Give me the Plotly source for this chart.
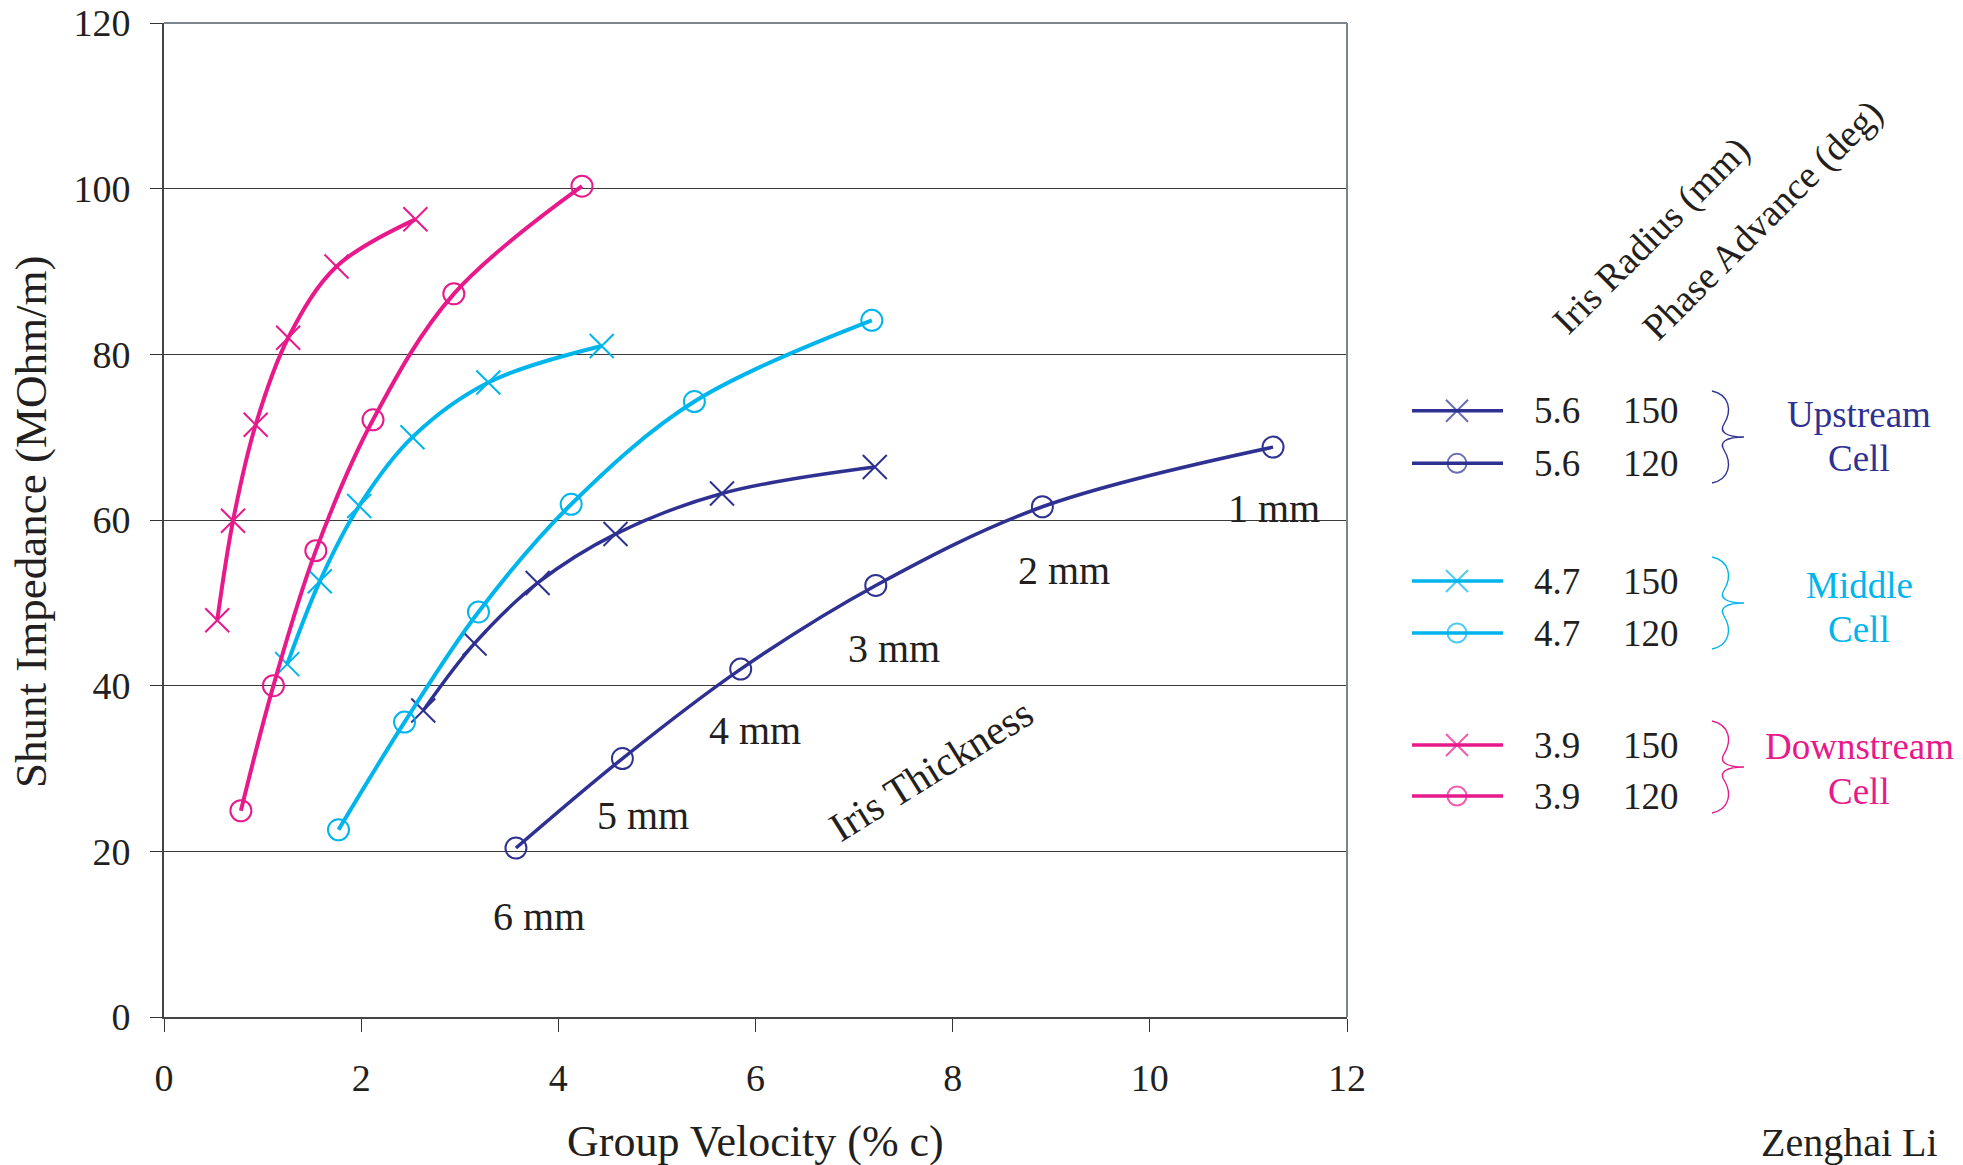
import plotly.graph_objects as go

# ---- data: group velocity (% c) vs shunt impedance (MOhm/m) ----
up150_vg = [2.63, 3.15, 3.79, 4.58, 5.66, 7.21]
up150_rs = [37.0, 45.1, 52.4, 58.3, 63.2, 66.4]
up120_vg = [3.57, 4.65, 5.85, 7.22, 8.91, 11.25]
up120_rs = [20.4, 31.2, 42.0, 52.1, 61.6, 68.8]

mid150_vg = [1.25, 1.58, 1.98, 2.52, 3.29, 4.44]
mid150_rs = [42.6, 52.6, 61.7, 70.0, 76.6, 81.0]
mid120_vg = [1.77, 2.44, 3.19, 4.13, 5.38, 7.18]
mid120_rs = [22.6, 35.6, 48.9, 61.9, 74.3, 84.1]

down150_vg = [0.54, 0.70, 0.93, 1.26, 1.75, 2.55]
down150_rs = [47.9, 59.9, 71.5, 82.0, 90.6, 96.3]
down120_vg = [0.78, 1.11, 1.54, 2.12, 2.94, 4.24]
down120_rs = [24.9, 40.0, 56.3, 72.1, 87.3, 100.3]

thickness_text = ["1 mm", "2 mm", "3 mm", "4 mm", "5 mm", "6 mm"]
thickness_x = [11.26, 9.13, 7.40, 5.99, 4.86, 3.80]
thickness_y = [61.4, 53.9, 44.5, 34.6, 24.3, 12.1]

legend_radius = ["5.6", "5.6", "4.7", "4.7", "3.9", "3.9"]
legend_phase = ["150", "120", "150", "120", "150", "120"]
cell_names = ["Upstream", "Middle", "Downstream"]

x_ticks = [0, 2, 4, 6, 8, 10, 12]
y_ticks = [0, 20, 40, 60, 80, 100, 120]

# ---- styling ----
NAVY = "#2E3192"
CYAN = "#00B5EC"
MAGENTA = "#E8198B"
TEXT = "#231F20"
FONT = "Liberation Serif"

W, H = 1963, 1165
ML, MR, MT, MB = 164, 20, 23, 148
PW, PH = W - ML - MR, H - MT - MB
MAIN_END = (1347 - ML) / PW       # right edge of the main plot, paper units
KEY_START = 0.68                  # key panel domain start
KEY_X0 = ML + KEY_START * PW      # key panel uses pixel-like units


def px_x(px):
    return (px - ML) / PW


def px_y(py):
    return (MT + PH - py) / PH


series = [
    (up150_vg, up150_rs, NAVY, "x", 3.5),
    (up120_vg, up120_rs, NAVY, "o", 3.5),
    (mid150_vg, mid150_rs, CYAN, "x", 4),
    (mid120_vg, mid120_rs, CYAN, "o", 4),
    (down150_vg, down150_rs, MAGENTA, "x", 4),
    (down120_vg, down120_rs, MAGENTA, "o", 4),
]


def marker_style(kind, color):
    if kind == "x":
        return dict(symbol="x-thin-open", size=24, color=color,
                    line=dict(color=color, width=2))
    return dict(symbol="circle-open", size=21, color=color,
                line=dict(color=color, width=2))


fig = go.Figure()

for vg, rs, color, kind, lw in series:
    fig.add_trace(go.Scatter(
        x=vg, y=rs, mode="lines+markers",
        line=dict(color=color, width=lw, shape="spline", smoothing=1.0),
        marker=marker_style(kind, color),
        showlegend=False, hoverinfo="skip",
        xaxis="x", yaxis="y",
    ))

# ---- key panel (drawn on its own pixel-scaled axes) ----
row_y = [410.7, 463.3, 581, 633, 745, 796]
row_color = [NAVY, NAVY, CYAN, CYAN, MAGENTA, MAGENTA]
row_kind = ["x", "o", "x", "o", "x", "o"]
for i in range(6):
    ms = marker_style(row_kind[i], row_color[i])
    ms["size"] = [0, 22 if row_kind[i] == "x" else 19, 0]
    fig.add_trace(go.Scatter(
        x=[1412, 1457, 1503], y=[row_y[i]] * 3, mode="lines+markers",
        line=dict(color=row_color[i], width=3.5), marker=ms,
        showlegend=False, hoverinfo="skip", xaxis="x2", yaxis="y2",
    ))

annotations = []
key_font = dict(family=FONT, size=37, color=TEXT)
for i in range(6):
    annotations.append(dict(x=1557, y=row_y[i], xref="x2", yref="y2",
                            xanchor="center", yanchor="middle",
                            text=legend_radius[i], showarrow=False, font=key_font))
    annotations.append(dict(x=1651, y=row_y[i], xref="x2", yref="y2",
                            xanchor="center", yanchor="middle",
                            text=legend_phase[i], showarrow=False, font=key_font))

group_color = [NAVY, CYAN, MAGENTA]
group_label_y = [(414, 458), (585, 629), (746, 791)]
brace_top = [391, 557, 721]
shapes = []
for g in range(3):
    gfont = dict(family=FONT, size=37, color=group_color[g])
    annotations.append(dict(x=1859, y=group_label_y[g][0], xref="x2", yref="y2",
                            xanchor="center", yanchor="middle",
                            text=cell_names[g], showarrow=False, font=gfont))
    annotations.append(dict(x=1859, y=group_label_y[g][1], xref="x2", yref="y2",
                            xanchor="center", yanchor="middle",
                            text="Cell", showarrow=False, font=gfont))
    yt = brace_top[g]
    h = 92
    yb, ym = yt + h, yt + h / 2
    x0 = 1712
    path = (
        f"M {x0},{yt} "
        f"C {x0 + 18},{yt + 4} {x0 + 20},{yt + 20} {x0 + 12},{yt + 33} "
        f"C {x0 + 7},{yt + 41} {x0 + 14},{ym} {x0 + 32},{ym} "
        f"C {x0 + 14},{ym} {x0 + 7},{yb - 41} {x0 + 12},{yb - 33} "
        f"C {x0 + 20},{yb - 20} {x0 + 18},{yb - 4} {x0},{yb}"
    )
    shapes.append(dict(type="path", path=path, xref="x2", yref="y2",
                       line=dict(color=group_color[g], width=1.4)))

head_font = dict(family=FONT, size=38, color=TEXT)
annotations.append(dict(x=1651, y=235, xref="x2", yref="y2", text="Iris Radius (mm)",
                        xanchor="center", yanchor="middle",
                        textangle=-45, showarrow=False, font=head_font))
annotations.append(dict(x=1762, y=220, xref="x2", yref="y2", text="Phase Advance (deg)",
                        xanchor="center", yanchor="middle",
                        textangle=-45, showarrow=False, font=head_font))

# ---- labels inside the plot ----
for t, x, y in zip(thickness_text, thickness_x, thickness_y):
    annotations.append(dict(x=x, y=y, xref="x", yref="y", text=t, showarrow=False,
                            xanchor="center", yanchor="middle",
                            font=dict(family=FONT, size=40, color=TEXT)))
annotations.append(dict(x=7.78, y=29.8, xref="x", yref="y", text="Iris Thickness",
                        xanchor="center", yanchor="middle",
                        textangle=-32, showarrow=False,
                        font=dict(family=FONT, size=41, color=TEXT)))

# axis titles and signature
annotations.append(dict(x=MAIN_END / 2, y=px_y(1141), xref="paper", yref="paper",
                        xanchor="center", yanchor="middle",
                        text="Group Velocity (% c)", showarrow=False,
                        font=dict(family=FONT, size=44, color=TEXT)))
annotations.append(dict(x=px_x(31), y=px_y(522), xref="paper", yref="paper",
                        xanchor="center", yanchor="middle",
                        text="Shunt Impedance (MOhm/m)", textangle=-90, showarrow=False,
                        font=dict(family=FONT, size=45, color=TEXT)))
annotations.append(dict(x=px_x(1849), y=px_y(1142), xref="paper", yref="paper",
                        xanchor="center", yanchor="middle",
                        text="Zenghai Li", showarrow=False,
                        font=dict(family=FONT, size=40, color=TEXT)))

# frame: grey top and right edges of the plot box
shapes.append(dict(type="line", xref="paper", yref="paper", x0=0, x1=MAIN_END, y0=1, y1=1,
                   line=dict(color="#7d858c", width=2)))
shapes.append(dict(type="line", xref="paper", yref="paper", x0=MAIN_END, x1=MAIN_END, y0=0, y1=1,
                   line=dict(color="#7d858c", width=2)))

fig.update_layout(
    width=W, height=H,
    margin=dict(l=ML, r=MR, t=MT, b=MB, autoexpand=False),
    paper_bgcolor="white", plot_bgcolor="white",
    font=dict(family=FONT, color=TEXT),
    showlegend=False,
    xaxis=dict(domain=[0, MAIN_END], range=[0, 12], tickvals=x_ticks,
               ticks="outside", ticklen=13, tickwidth=1, tickcolor="#333",
               showline=True, linecolor="#444", linewidth=2,
               showgrid=False, zeroline=False, automargin=False,
               tickfont=dict(family=FONT, size=38, color=TEXT),
               ticklabelstandoff=13, fixedrange=True),
    yaxis=dict(domain=[0, 1], range=[0, 120], tickvals=y_ticks,
               ticks="outside", ticklen=12, tickwidth=1, tickcolor="#333",
               showline=True, linecolor="#444", linewidth=2,
               showgrid=True, gridcolor="#3a3a3a", gridwidth=1, zeroline=False,
               automargin=False,
               tickfont=dict(family=FONT, size=38, color=TEXT),
               ticklabelstandoff=12, fixedrange=True),
    xaxis2=dict(domain=[KEY_START, 1], range=[KEY_X0, W - MR], visible=False,
                anchor="y2", fixedrange=True, automargin=False),
    yaxis2=dict(domain=[0, 1], range=[MT + PH, MT], visible=False,
                anchor="x2", fixedrange=True, automargin=False),
    annotations=annotations,
    shapes=shapes,
)

fig.write_html("out.html")
